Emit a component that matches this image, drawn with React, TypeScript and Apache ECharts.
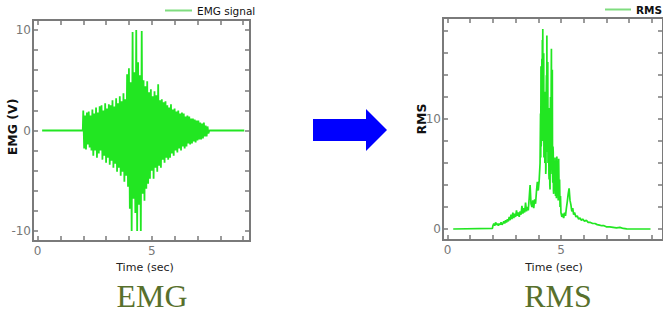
import React, { useEffect, useRef } from "react";
import * as echarts from "echarts";

// ---- EMG signal (left panel) ----
const emgStart = 2.0;
const emgStep = 0.04;
const emgValues = [
  2.0, -1.8, 1.5, -1.9, 1.8, -1.4, 1.9, -1.7, 1.5, -2.0,
  2.1, -2.5, 1.7, -2.0, 2.3, -2.7, 1.8, -2.3, 2.4, -2.0,
  2.5, -2.9, 2.0, -2.5, 2.7, -3.2, 2.2, -2.7, 2.6, -3.4,
  2.5, -3.0, 3.0, -3.7, 2.4, -3.3, 3.2, -4.1, 2.7, -3.7,
  3.4, -4.5, 2.9, -4.1, 3.7, -5.1, 3.1, -4.5, 5.6, -5.6,
  6.2, -7.8, 4.8, -10.0, 9.8, -6.8, 5.8, -8.2, 10.0, -10.0,
  6.8, -7.4, 5.5, -10.0, 9.9, -6.3, 5.0, -7.0, 4.4, -5.8,
  4.9, -5.3, 3.8, -4.8, 4.1, -4.0, 3.4, -4.8, 3.9, -3.7,
  3.5, -4.1, 4.6, -3.5, 3.0, -3.7, 3.1, -2.9, 2.8, -3.2,
  2.9, -2.7, 2.5, -2.9, 2.3, -2.7, 2.6, -2.3, 2.1, -2.5,
  2.2, -2.0, 1.9, -2.2, 2.0, -1.8, 1.7, -2.0, 1.8, -1.6,
  1.7, -1.8, 1.4, -1.6, 1.5, -1.3, 1.4, -1.4, 1.2, -1.3,
  1.2, -1.1, 1.1, -1.2, 1.0, -1.0, 1.0, -0.9, 0.8, -0.9,
  0.7, -0.8, 0.8, -0.6, 0.5, -0.6, 0.4, -0.3,
];
const emgLeadIn: [number, number][] = [[0.2, 0], [1.98, 0]];
const emgLeadOut: [number, number][] = [[7.52, 0], [9.05, 0]];

// ---- RMS envelope (right panel) ----
const rmsPoints: [number, number][] = [
  [0.25, 0], [1.98, 0.05],
  [2.0, 0.3], [2.04, 0.5], [2.08, 0.3], [2.12, 0.6], [2.16, 0.4], [2.2, 0.5], [2.24, 0.3], [2.28, 0.5], [2.32, 0.4], [2.36, 0.6],
  [2.4, 0.4], [2.44, 0.5], [2.48, 0.7], [2.52, 0.5], [2.56, 0.8], [2.6, 0.6], [2.64, 0.9], [2.68, 0.7], [2.72, 1.1], [2.76, 0.8],
  [2.8, 1.3], [2.84, 0.9], [2.88, 1.5], [2.92, 1.0], [2.96, 1.4], [3.0, 1.1], [3.04, 1.7], [3.08, 1.2], [3.12, 1.5], [3.16, 1.1],
  [3.2, 1.6], [3.24, 1.3], [3.28, 2.1], [3.32, 1.4], [3.36, 1.9], [3.4, 1.5], [3.44, 2.4], [3.48, 1.6], [3.52, 2.0], [3.56, 1.7],
  [3.6, 2.8], [3.64, 4.0], [3.68, 2.3], [3.72, 2.0], [3.76, 2.6], [3.8, 1.9], [3.84, 2.7], [3.88, 2.3], [3.92, 3.4], [3.96, 4.3],
  [4.0, 3.5], [4.04, 4.4], [4.08, 6.0],
  [4.1, 10.5], [4.11, 6.5], [4.12, 14.8], [4.13, 7.5], [4.14, 8.2], [4.15, 12.0], [4.16, 15.5], [4.17, 8.5], [4.18, 17.2], [4.19, 9.0],
  [4.2, 18.2], [4.21, 8.0], [4.22, 9.5], [4.23, 13.0], [4.24, 16.0], [4.25, 6.5], [4.26, 7.0], [4.27, 11.0], [4.28, 12.5], [4.29, 6.0],
  [4.3, 6.2], [4.31, 9.0], [4.32, 10.0], [4.33, 5.0], [4.34, 5.5], [4.35, 12.0], [4.36, 14.0], [4.37, 8.0], [4.38, 17.6], [4.39, 7.0],
  [4.4, 9.0], [4.41, 12.5], [4.42, 15.2], [4.43, 6.0], [4.44, 7.5], [4.45, 10.0], [4.46, 11.0], [4.47, 5.0], [4.48, 4.5], [4.49, 9.0],
  [4.5, 8.5], [4.51, 4.0], [4.52, 3.6], [4.53, 9.5], [4.54, 12.0], [4.55, 5.0], [4.56, 6.0], [4.57, 13.0], [4.58, 16.4], [4.59, 6.5],
  [4.6, 8.0], [4.61, 11.0], [4.62, 14.5], [4.63, 5.0], [4.64, 4.2], [4.65, 7.5], [4.66, 7.0], [4.67, 3.5], [4.68, 3.2], [4.69, 6.0],
  [4.7, 5.5], [4.72, 3.5], [4.74, 6.5], [4.76, 3.0], [4.78, 6.2], [4.8, 2.8], [4.82, 6.6], [4.84, 3.5], [4.86, 5.8], [4.88, 2.6],
  [4.9, 6.4], [4.92, 3.0], [4.94, 4.5], [4.96, 2.0], [4.98, 3.0], [5.0, 1.5],
  [5.04, 1.1], [5.08, 1.4], [5.12, 1.0], [5.16, 1.5], [5.2, 1.2], [5.24, 1.9], [5.28, 2.5], [5.32, 3.2], [5.36, 3.7], [5.4, 2.6],
  [5.44, 2.2], [5.48, 1.6], [5.52, 1.9], [5.56, 1.3], [5.6, 1.5], [5.66, 1.1], [5.72, 1.2], [5.78, 0.9], [5.84, 1.0], [5.9, 0.8],
  [5.96, 0.9], [6.04, 0.7], [6.12, 0.8], [6.2, 0.6], [6.3, 0.6], [6.4, 0.5], [6.5, 0.5], [6.6, 0.4], [6.7, 0.35], [6.8, 0.3],
  [6.9, 0.3], [7.0, 0.2], [7.15, 0.2], [7.3, 0.15], [7.45, 0.1], [7.6, 0.15], [7.75, 0.05], [7.9, 0.02], [8.1, 0], [8.95, 0],
];

// ---- ticks & labels ----
const timeLabels = [0, 5];
const timeTicks = [0, 1, 2, 3, 4, 5, 6, 7, 8, 9];
const emgLabels = [-10, 0, 10];
const emgTicks = [-10, -8, -6, -4, -2, 0, 2, 4, 6, 8, 10];
const rmsLabels = [0, 10];
const rmsTicks = [0, 2, 4, 6, 8, 10, 12, 14, 16, 18];

const FONT = "DejaVu Sans";
const GRAY = "#7a7a7a";
const GREEN = "#22e622";

function xAx(grid: number, min: number, max: number, top: boolean) {
  return {
    type: "value",
    gridIndex: grid,
    position: top ? "top" : "bottom",
    min,
    max,
    z: 5,
    splitLine: { show: false },
    axisLine: { show: false, onZero: false },
    axisTick: { show: true, inside: true, length: 5, customValues: timeTicks, lineStyle: { color: GRAY, width: 1.5 } },
    axisLabel: top
      ? { show: false }
      : { show: true, customValues: timeLabels, margin: 4, fontSize: 12, color: "#777", fontFamily: FONT },
  };
}

function yAx(grid: number, min: number, max: number, right: boolean, ticks: number[], labels: number[]) {
  return {
    type: "value",
    gridIndex: grid,
    position: right ? "right" : "left",
    min,
    max,
    z: 5,
    splitLine: { show: false },
    axisLine: { show: false, onZero: false },
    axisTick: { show: true, inside: true, length: 5, customValues: ticks, lineStyle: { color: GRAY, width: 1.5 } },
    axisLabel: right
      ? { show: false }
      : { show: true, customValues: labels, margin: 2, fontSize: 12, color: "#777", fontFamily: FONT },
  };
}

export default function App() {
  const ref = useRef<HTMLDivElement>(null);
  useEffect(() => {
    if (!ref.current) return;
    const chart = echarts.init(ref.current, undefined, { renderer: "svg" });
    const emgData: [number, number][] = [
      ...emgLeadIn,
      ...emgValues.map((v, i) => [emgStart + i * emgStep, v] as [number, number]),
      ...emgLeadOut,
    ];
    chart.setOption({
      animation: false,
      backgroundColor: "#ffffff",
      grid: [
        { left: 33, top: 20, width: 217, height: 221, show: true, borderColor: GRAY, borderWidth: 2, backgroundColor: "transparent" },
        { left: 443, top: 18, right: -3, height: 222, show: true, borderColor: GRAY, borderWidth: 2, backgroundColor: "transparent" },
      ],
      xAxis: [
        xAx(0, -0.2, 9.3, false),
        xAx(0, -0.2, 9.3, true),
        xAx(1, -0.2, 9.5, false),
        xAx(1, -0.2, 9.5, true),
      ],
      yAxis: [
        yAx(0, -11, 11, false, emgTicks, emgLabels),
        yAx(0, -11, 11, true, emgTicks, emgLabels),
        yAx(1, -1, 19.2, false, rmsTicks, rmsLabels),
        yAx(1, -1, 19.2, true, rmsTicks, rmsLabels),
      ],
      legend: [
        {
          left: 165,
          top: 5,
          padding: 0,
          icon: "rect",
          itemWidth: 27,
          itemHeight: 2,
          textStyle: { fontSize: 10.5, color: "#111", fontFamily: FONT },
          data: [{ name: "EMG signal", itemStyle: { color: "#7fdc7f" } }],
        },
        {
          left: 605,
          top: 4,
          padding: 0,
          icon: "rect",
          itemWidth: 26,
          itemHeight: 2,
          textStyle: { fontSize: 10.5, color: "#111", fontFamily: FONT, fontWeight: "bold" },
          data: [{ name: "RMS", itemStyle: { color: "#7fdc7f" } }],
        },
      ],
      series: [
        {
          name: "EMG signal",
          type: "line",
          xAxisIndex: 0,
          yAxisIndex: 0,
          data: emgData,
          symbol: "none",
          lineStyle: { color: GREEN, width: 1.8 },
          itemStyle: { color: GREEN },
        },
        {
          name: "RMS",
          type: "line",
          xAxisIndex: 2,
          yAxisIndex: 2,
          data: rmsPoints,
          symbol: "none",
          lineStyle: { color: GREEN, width: 1.7 },
          itemStyle: { color: GREEN },
        },
      ],
      graphic: [
        {
          type: "polygon",
          shape: {
            points: [
              [313, 119], [366, 119], [366, 109], [387, 130], [366, 151], [366, 141], [313, 141],
            ],
          },
          style: { fill: "#0000ff" },
        },
        {
          type: "text",
          x: 12,
          y: 127,
          rotation: Math.PI / 2,
          style: { text: "EMG (V)", fontSize: 12.5, fontWeight: "bold", fontFamily: FONT, fill: "#111", align: "center", verticalAlign: "middle" },
        },
        {
          type: "text",
          x: 421,
          y: 119,
          rotation: Math.PI / 2,
          style: { text: "RMS", fontSize: 12.5, fontWeight: "bold", fontFamily: FONT, fill: "#111", align: "center", verticalAlign: "middle" },
        },
        {
          type: "text",
          x: 145,
          y: 267,
          style: { text: "Time (sec)", fontSize: 11, fontFamily: FONT, fill: "#222", align: "center", verticalAlign: "middle" },
        },
        {
          type: "text",
          x: 554,
          y: 267,
          style: { text: "Time (sec)", fontSize: 11, fontFamily: FONT, fill: "#222", align: "center", verticalAlign: "middle" },
        },
        {
          type: "text",
          x: 152,
          y: 312,
          style: { text: "EMG", fontSize: 32, fontFamily: "Liberation Serif", fill: "#58702c", align: "center", verticalAlign: "bottom" },
        },
        {
          type: "text",
          x: 558,
          y: 312,
          style: { text: "RMS", fontSize: 32, fontFamily: "Liberation Serif", fill: "#58702c", align: "center", verticalAlign: "bottom" },
        },
      ],
    });
    return () => chart.dispose();
  }, []);
  return (
    <div
      ref={ref}
      style={{ position: "fixed", left: 0, top: 0, width: 663, height: 320, background: "#fff" }}
    />
  );
}
